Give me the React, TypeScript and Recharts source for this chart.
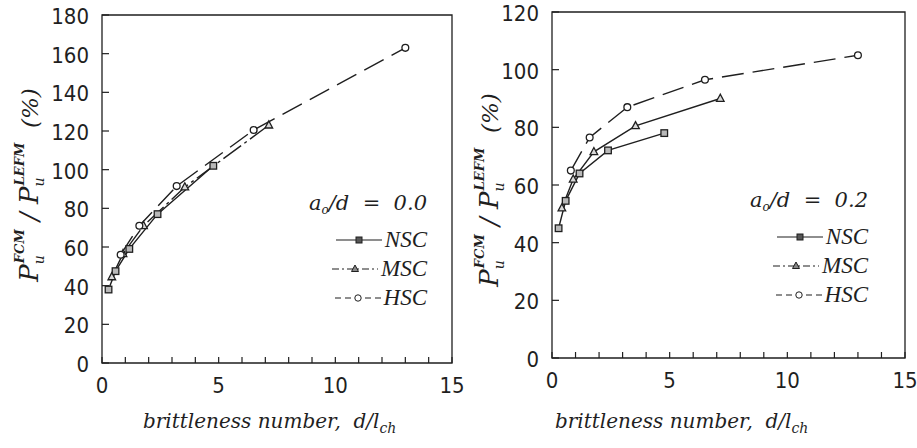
import React from 'react';
import { LineChart, Line, XAxis, YAxis, Legend, ReferenceArea } from 'recharts';

// ---------- data ----------
const xTickValues = [0, 1, 2, 3, 4, 5, 6, 7, 8, 9, 10, 11, 12, 13, 14, 15];
const xTickLabels = [0, 5, 10, 15];
const yTicksA = [0, 20, 40, 60, 80, 100, 120, 140, 160, 180];
const yTicksB = [0, 20, 40, 60, 80, 100, 120];

const nscX = [0.28, 0.58, 1.17, 2.38, 4.77];
const mscX = [0.42, 0.9, 1.78, 3.55, 7.15];
const hscX = [0.8, 1.6, 3.2, 6.5, 13.0];

// a0/d = 0.0
const nscY00 = [38, 47.5, 59, 77, 102];
const mscY00 = [44.5, 56.5, 71, 91, 123];
const hscY00 = [56, 71, 91.5, 120.5, 163];

// a0/d = 0.2
const nscY02 = [45, 54.5, 64, 72, 78];
const mscY02 = [52, 62, 71.5, 80.5, 90];
const hscY02 = [65, 76.5, 87, 96.5, 105];

const seriesNames = ['NSC', 'MSC', 'HSC'];
const ratioLabels = ['0.0', '0.2'];

// ---------- styling ----------
const INK = '#1f1f1f';
const SERIF = '"DejaVu Serif", serif';
const SERIF2 = '"Liberation Serif", serif';
const SANS = '"Liberation Sans Narrow", "DejaVu Sans Condensed", "Liberation Sans", sans-serif';

const zip = (xs: number[], ys: number[]) => xs.map((x, i) => ({ x, y: ys[i] }));

const SquareDot = (p: any) => {
  if (p.cx == null || p.cy == null) return <g key={'s' + p.index} />;
  return <rect key={'s' + p.index} x={p.cx - 3.3} y={p.cy - 3.3} width={6.6} height={6.6} fill="#b8b8b8" stroke={INK} strokeWidth={1.3} />;
};
const TriDot = (p: any) => {
  if (p.cx == null || p.cy == null) return <g key={'t' + p.index} />;
  const { cx, cy } = p;
  return <polygon key={'t' + p.index} points={`${cx},${cy - 4.3} ${cx - 3.8},${cy + 2.8} ${cx + 3.8},${cy + 2.8}`} fill="#d8d8d8" stroke={INK} strokeWidth={1.3} />;
};
const CircDot = (p: any) => {
  if (p.cx == null || p.cy == null) return <g key={'c' + p.index} />;
  return <circle key={'c' + p.index} cx={p.cx} cy={p.cy} r={3.4} fill="#fff" stroke={INK} strokeWidth={1.3} />;
};

const XTick = (p: any) => {
  const { x, y, payload } = p;
  const show = xTickLabels.includes(payload.value);
  return (
    <g>
      <line x1={x} x2={x} y1={y} y2={y - 6} stroke={INK} strokeWidth={1.2} />
      {show && (
        <text x={x} y={y + 30} textAnchor="middle" fontFamily={SANS} fontSize={22} fill={INK}>
          {payload.value}
        </text>
      )}
    </g>
  );
};

const YTick = (p: any) => {
  const { x, y, payload } = p;
  return (
    <g>
      <line x1={x} x2={x + 7} y1={y} y2={y} stroke={INK} strokeWidth={1.2} />
      <text x={x - 13} y={y + 9} textAnchor="end" fontFamily={SANS} fontSize={22} fill={INK}>
        {payload.value}
      </text>
    </g>
  );
};

const YLabel = ({ x, y }: { x: number; y: number }) => (
  <text
    transform={`translate(${x},${y}) rotate(-90)`}
    textAnchor="middle"
    fontFamily={SERIF}
    fontStyle="italic"
    fill={INK}
    style={{ whiteSpace: 'pre' }}
  >
    <tspan fontSize={26}>P</tspan>
    <tspan fontSize={14} dy={6}>u</tspan>
    <tspan fontSize={13} fontWeight="bold" dx={-8} dy={-20}>FCM</tspan>
    <tspan fontSize={26} dy={14}>{' / '}</tspan>
    <tspan fontSize={26}>P</tspan>
    <tspan fontSize={14} dy={6}>u</tspan>
    <tspan fontSize={13} fontWeight="bold" dx={-8} dy={-20}>LEFM</tspan>
    <tspan fontSize={23} dy={14}>{'  (%)'}</tspan>
  </text>
);

const XLabel = ({ x, y }: { x: number; y: number }) => (
  <text x={x} y={y} fontFamily={SERIF} fontStyle="italic" fontSize={20} fill={INK} style={{ whiteSpace: 'pre' }}>
    {'brittleness number,  d/l'}
    <tspan fontSize={14} dy={5}>ch</tspan>
  </text>
);

const dashFor: Record<string, string | undefined> = {
  NSC: undefined,
  MSC: '7 3 2 3',
  HSC: '6 4',
};
const DotFor: Record<string, any> = { NSC: SquareDot, MSC: TriDot, HSC: CircDot };

const LegendSample = ({ name }: { name: string }) => (
  <svg width={48} height={14} style={{ display: 'block' }}>
    <line x1={1} x2={47} y1={7} y2={7} stroke={INK} strokeWidth={1.2} strokeDasharray={dashFor[name]} />
    {name === 'NSC' && <rect x={21} y={4} width={6} height={6} fill="#555" stroke={INK} />}
    {name === 'MSC' && <polygon points="24,3 20.5,9.5 27.5,9.5" fill="#888" stroke={INK} />}
    {name === 'HSC' && <circle cx={24} cy={7} r={3.2} fill="#fff" stroke={INK} />}
  </svg>
);

const LegendBox = ({ ratio }: { ratio: string }) => (
  <div style={{ width: 140, color: INK }}>
    <div
      style={{
        height: 30,
        lineHeight: '30px',
        textAlign: 'right',
        fontFamily: SERIF,
        fontStyle: 'italic',
        fontSize: 21,
        whiteSpace: 'pre',
      }}
    >
      a<sub style={{ fontSize: 12, verticalAlign: '-4px' }}>o</sub>/d{'  =  '}{ratio}
    </div>
    <div style={{ height: 7 }} />
    {seriesNames.map((n) => (
      <div key={n} style={{ height: 29, display: 'flex', justifyContent: 'flex-end', alignItems: 'center' }}>
        <LegendSample name={n} />
        <span style={{ fontFamily: SERIF2, fontStyle: 'italic', fontSize: 23, marginLeft: 2, lineHeight: '29px' }}>{n}</span>
      </div>
    ))}
  </div>
);

type PanelProps = {
  width: number;
  margin: { top: number; right: number; bottom: number; left: number };
  yMax: number;
  yTicks: number[];
  ys: number[][];
  ratio: string;
  legendPos: { left: number; top: number };
  xLabel: { x: number; y: number };
  yLabel: { x: number; y: number };
  mscDash?: string;
};

const Panel = (props: PanelProps) => {
  const { width, margin, yMax, yTicks, ys, ratio, legendPos, xLabel, yLabel, mscDash } = props;
  const xs = [nscX, mscX, hscX];
  const dashes = [undefined, mscDash, '22 9'];
  return (
    <LineChart width={width} height={448} margin={margin}>
      <XAxis
        type="number"
        dataKey="x"
        domain={[0, 15]}
        ticks={xTickValues}
        interval={0}
        allowDataOverflow
        height={1}
        tickSize={0}
        tickMargin={0}
        axisLine={false}
        tickLine={false}
        tick={<XTick />}
        label={{ content: () => <XLabel x={xLabel.x} y={xLabel.y} /> }}
      />
      <YAxis
        type="number"
        domain={[0, yMax]}
        ticks={yTicks}
        interval={0}
        allowDataOverflow
        width={1}
        tickSize={0}
        tickMargin={0}
        axisLine={false}
        tickLine={false}
        tick={<YTick />}
        label={{ content: () => <YLabel x={yLabel.x} y={yLabel.y} /> }}
      />
      <ReferenceArea x1={0} x2={15} y1={0} y2={yMax} fill="none" stroke={INK} strokeWidth={1.3} />
      {seriesNames.map((n, i) => (
        <Line
          key={n}
          name={n}
          data={zip(xs[i], ys[i])}
          dataKey="y"
          type="linear"
          stroke={INK}
          strokeWidth={1.4}
          strokeDasharray={dashes[i]}
          dot={DotFor[n]}
          activeDot={false}
          isAnimationActive={false}
        />
      ))}
      <Legend
        layout="vertical"
        align="center"
        verticalAlign="middle"
        wrapperStyle={{ left: legendPos.left, top: legendPos.top, width: 140 }}
        content={() => <LegendBox ratio={ratio} />}
      />
    </LineChart>
  );
};

export default function App() {
  return (
    <div style={{ position: 'absolute', left: 0, top: 0, width: 917, height: 448, background: '#fff' }}>
      <div style={{ position: 'absolute', left: 0, top: 0 }}>
        <Panel
          width={470}
          margin={{ top: 15, right: 18, bottom: 84, left: 101 }}
          yMax={180}
          yTicks={yTicksA}
          ys={[nscY00, mscY00, hscY00]}
          ratio={ratioLabels[0]}
          legendPos={{ left: 287, top: 188 }}
          xLabel={{ x: 143, y: 428 }}
          yLabel={{ x: 38, y: 185 }}
          mscDash="22 4 3 4"
        />
      </div>
      <div style={{ position: 'absolute', left: 470, top: 0 }}>
        <Panel
          width={447}
          margin={{ top: 12, right: 12, bottom: 89, left: 81 }}
          yMax={120}
          yTicks={yTicksB}
          ys={[nscY02, mscY02, hscY02]}
          ratio={ratioLabels[1]}
          legendPos={{ left: 258, top: 185 }}
          xLabel={{ x: 85, y: 428 }}
          yLabel={{ x: 28, y: 190 }}
          mscDash={undefined}
        />
      </div>
    </div>
  );
}
